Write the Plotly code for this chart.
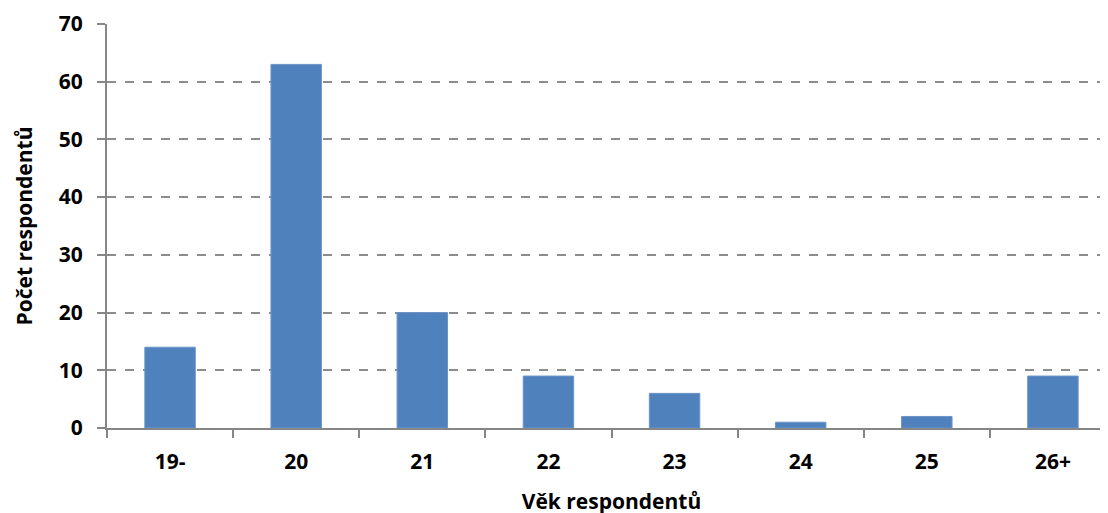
import plotly.graph_objects as go

categories = ["19-", "20", "21", "22", "23", "24", "25", "26+"]
counts = [14, 63, 20, 9, 6, 1, 2, 9]

FONT = "Open Sans"
AXIS_COLOR = "#868686"
FS = 21

fig = go.Figure(
    go.Bar(
        x=categories,
        y=counts,
        width=0.4,
        marker=dict(color="#4F81BD", line=dict(color="#6C94C8", width=1)),
    )
)

fig.update_layout(
    width=1108,
    height=513,
    margin=dict(l=99, r=0, t=16, b=93),
    paper_bgcolor="white",
    plot_bgcolor="white",
    showlegend=False,
    font=dict(family=FONT, size=FS, color="black"),
)

fig.update_xaxes(
    type="category",
    range=[-0.5, 7.5],
    tickson="boundaries",
    ticks="outside",
    ticklen=8,
    tickcolor=AXIS_COLOR,
    tickwidth=2,
    showline=True,
    linecolor=AXIS_COLOR,
    linewidth=2,
    showgrid=False,
    ticklabelstandoff=14,
    tickfont=dict(family=FONT, size=FS, color="black", weight="bold"),
    title=dict(
        text="Věk respondentů",
        font=dict(family=FONT, size=FS, color="black", weight="bold"),
        standoff=20,
    ),
)

fig.update_yaxes(
    range=[0, 70],
    dtick=10,
    ticks="outside",
    ticklen=8,
    tickcolor=AXIS_COLOR,
    tickwidth=2,
    showline=True,
    linecolor=AXIS_COLOR,
    linewidth=2,
    showgrid=True,
    gridcolor="#8C8C8C",
    griddash="dash",
    gridwidth=1.5,
    zeroline=False,
    ticklabelstandoff=10,
    tickfont=dict(family=FONT, size=FS, color="black", weight="bold"),
    title=dict(
        text="Počet respondentů",
        font=dict(family=FONT, size=FS, color="black", weight="bold"),
        standoff=20,
    ),
)

fig.write_html("out.html")
